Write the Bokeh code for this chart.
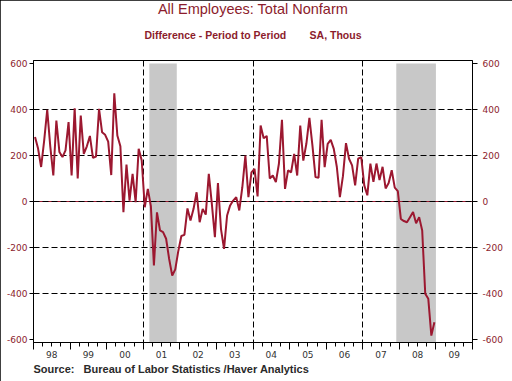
import numpy as np
from bokeh.plotting import figure
from bokeh.models import FixedTicker, LinearAxis, Range1d, Title, ColumnDataSource
from bokeh.embed import file_html
from bokeh.resources import INLINE

# ---- data (monthly change in nonfarm payrolls, SA, thousands) ----
years = [1998, 1999, 2000, 2001, 2002, 2003, 2004, 2005, 2006, 2007, 2008]
v1998 = [280, 230, 150, 265, 399, 240, 113, 352, 215, 193, 222, 345]
v1999 = [113, 405, 100, 374, 207, 240, 285, 190, 195, 403, 301, 290]
v2000 = [260, 115, 470, 287, 240, -46, 161, 4, 120, -3, 229, 178]
v2001 = [-25, 55, -20, -278, -47, -126, -133, -162, -250, -322, -295, -215]
v2002 = [-150, -145, -30, -83, -32, 40, -90, -32, -57, 120, -10, -155]
v2003 = [80, -120, -206, -61, -17, 4, 19, -39, 62, 200, 19, 127]
v2004 = [142, 22, 330, 275, 285, 100, 113, 84, 164, 355, 55, 135]
v2005 = [127, 207, 113, 330, 178, 251, 364, 243, 106, 103, 355, 149]
v2006 = [251, 268, 229, 150, 19, 110, 254, 186, 157, 70, 186, 193]
v2007 = [70, 27, 165, 85, 165, 93, 151, 57, 80, 136, 60, 45]
v2008 = [-76, -85, -90, -68, -46, -95, -68, -126, -401, -423, -583, -525]
yearly = [v1998, v1999, v2000, v2001, v2002, v2003, v2004, v2005, v2006, v2007, v2008]

# recessions (NBER): (year, month) start and end
rec_start = [(2001, 3), (2007, 12)]
rec_end = [(2001, 11), (2008, 12)]

y_ticks = [-600, -400, -200, 0, 200, 400, 600]
y_grid = [-400, -200, 0, 200, 400]
x_grid_years = [1998, 2001, 2004, 2007]
axis_years = list(range(1998, 2011))
year_labels = ["98", "99", "00", "01", "02", "03", "04", "05", "06", "07", "08", "09"]

NB = "\u00a0"
title_text = "All Employees: Total Nonfarm"
subtitle_text = "Difference - Period to Period" + NB * 8 + "SA, Thous"
source_text = "Source:" + NB * 3 + "Bureau of Labor Statistics /Haver Analytics"

# ---- build ----
xs, ys = [], []
for yr, vals in zip(years, yearly):
    for m, v in enumerate(vals):
        xs.append(yr + (m + 0.5) / 12.0)
        ys.append(v)
src = ColumnDataSource(dict(x=xs, y=ys))

RED = "#9c1830"
TXTRED = "#8c1c2c"
Y0, Y1 = -613, 613
X0, X1 = 1998, 2010

p = figure(width=512, height=381, output_backend="svg", toolbar_location=None,
           x_range=Range1d(X0, X1), y_range=Range1d(Y0, Y1),
           min_border_left=33, min_border_right=40, min_border_top=60, min_border_bottom=39,
           background_fill_color="white", border_fill_color="white")
p.styles = {"outline": "1px solid black", "outline-offset": "-1px"}
p.xgrid.visible = False
p.ygrid.visible = False
p.outline_line_color = "black"
p.outline_line_width = 1

# recession shading
ls = [y + (m - 1) / 12.0 for (y, m) in rec_start]
rs = [y + m / 12.0 for (y, m) in rec_end]
p.quad(left=ls, right=rs, bottom=Y0, top=600, fill_color="#c8c8c8", line_color=None)

# zero line (red) and dashed grid
p.hspan(y=[0], line_color=RED, line_width=1)
p.hspan(y=y_grid, line_color="black", line_width=1, line_dash="6 3")
p.vspan(x=x_grid_years, line_color="black", line_width=1, line_dash="6 3")

# data line
p.line("x", "y", source=src, line_color=RED, line_width=2)

# y axes
overrides = {t: str(t) for t in y_ticks}
ax = p.yaxis[0]
ax.ticker = FixedTicker(ticks=y_ticks, minor_ticks=[])
ax.major_label_overrides = overrides
ax.major_tick_out = 4
ax.major_tick_in = 0
ax.major_label_standoff = 2
ax.major_label_text_font = "DejaVu Sans"
ax.major_label_text_font_size = "9px"
ax.major_label_text_color = TXTRED
ax.axis_line_color = "black"
ax.major_tick_line_color = "black"

yr = LinearAxis(ticker=FixedTicker(ticks=y_ticks, minor_ticks=[]),
                major_label_overrides=overrides,
                major_tick_out=5, major_tick_in=0, major_label_standoff=5,
                major_label_text_font="DejaVu Sans", major_label_text_font_size="9px",
                major_label_text_color=TXTRED, axis_line_color="black",
                major_tick_line_color="black")
p.add_layout(yr, "right")

# x axis: tick marks
quarters = [y + q / 4.0 for y in range(1998, 2010) for q in range(4)]
xa = p.xaxis[0]
xa.ticker = FixedTicker(ticks=axis_years, minor_ticks=quarters)
xa.major_label_overrides = {float(y): "" for y in axis_years}
xa.major_tick_out = 7
xa.major_tick_in = 0
xa.minor_tick_out = 4
xa.minor_tick_in = 0
xa.major_label_standoff = 0
xa.major_label_text_font_size = "0px"
xa.axis_line_color = "black"
xa.major_tick_line_color = "black"
xa.minor_tick_line_color = "black"

# x axis: year labels at mid-year
mids = [y + 0.5 for y in range(1998, 2010)]
xl = LinearAxis(ticker=FixedTicker(ticks=mids, minor_ticks=[]),
                major_label_overrides={m: lab for m, lab in zip(mids, year_labels)},
                major_tick_out=0, major_tick_in=0, minor_tick_out=0, minor_tick_in=0,
                axis_line_color=None, major_label_standoff=1,
                major_label_text_font="DejaVu Sans", major_label_text_font_size="9px",
                major_label_text_color="#333333")
p.add_layout(xl, "below")

# source line
p.add_layout(Title(text=source_text, align="left", text_font="Liberation Sans",
                   text_font_size="11px", text_font_style="bold", text_color="#2a2a2a",
                   standoff=0), "below")

# titles (added nearest-first: spacer, subtitle, then main title outermost)
p.add_layout(Title(text=" ", text_font_size="1px", standoff=9), "above")
p.add_layout(Title(text=subtitle_text, align="center", text_font="Liberation Sans",
                   text_font_size="10.5px", text_font_style="bold", text_color=TXTRED,
                   standoff=16), "above")
p.title.text = title_text
p.title.align = "center"
p.title.vertical_align = "top"
p.title.text_font = "Liberation Sans"
p.title.text_font_size = "14.5px"
p.title.text_font_style = "normal"
p.title.text_color = TXTRED
p.title.standoff = 0

open("out.html", "w").write(file_html(p, INLINE))
